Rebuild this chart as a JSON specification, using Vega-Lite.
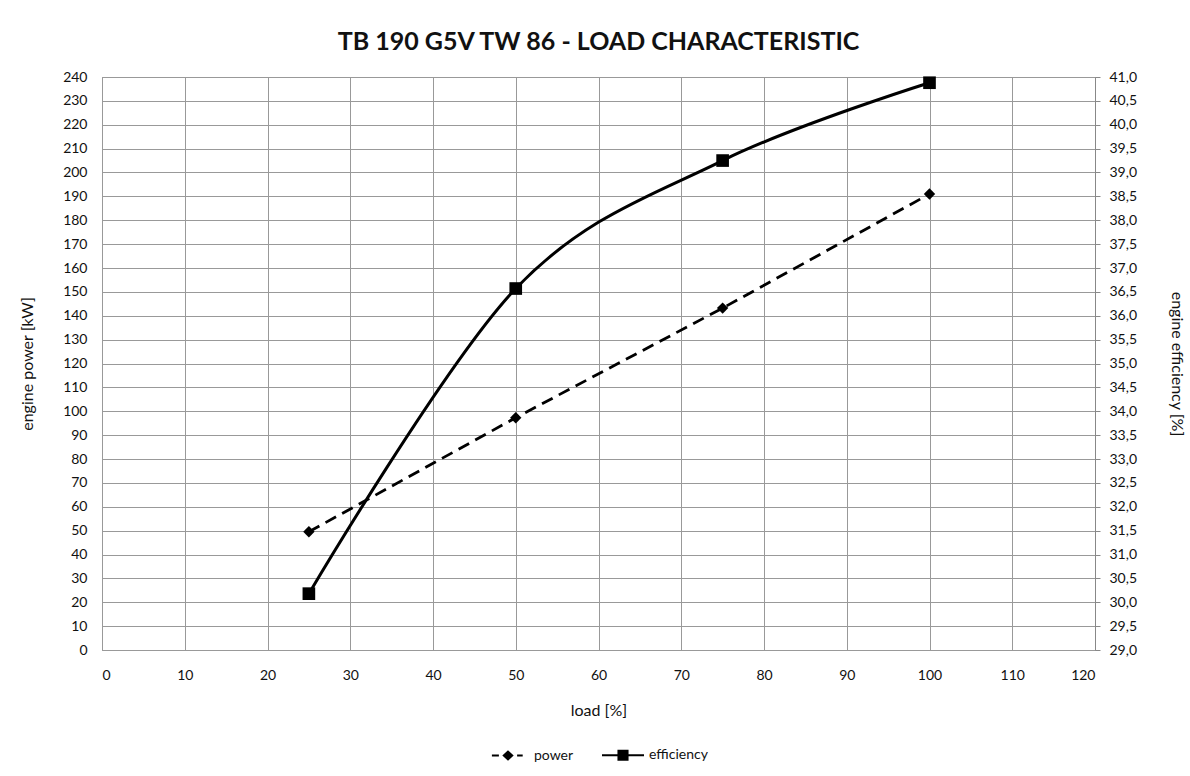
{
  "$schema": "https://vega.github.io/schema/vega-lite/v6.json",
  "autosize": "none",
  "width": 993,
  "height": 573,
  "padding": {"left": 102, "top": 77, "right": 95, "bottom": 126},
  "background": "white",
  "title": {
    "text": "TB 190 G5V TW 86 - LOAD CHARACTERISTIC",
    "font": "Lato",
    "fontSize": 25,
    "fontWeight": "bold",
    "color": "#111111",
    "offset": 15
  },
  "config": {
    "view": {"stroke": "#888888", "strokeWidth": 1}
  },
  "data": {
    "values": [
      {"load": 25, "power": 49.5, "efficiency": 30.18},
      {"load": 50, "power": 97.3, "efficiency": 36.57},
      {"load": 75, "power": 143.2, "efficiency": 39.25},
      {"load": 100, "power": 191.0, "efficiency": 40.88}
    ]
  },
  "encoding": {
    "x": {
      "field": "load",
      "type": "quantitative",
      "scale": {"domain": [0, 120], "nice": false},
      "axis": {
        "title": "load [%]",
        "values": [0, 10, 20, 30, 40, 50, 60, 70, 80, 90, 100, 110, 120],
        "labelFont": "Lato",
        "labelFontSize": 14,
        "labelColor": "#111111",
        "titleFont": "Lato",
        "titleFontSize": 16,
        "titleFontWeight": "normal",
        "titleColor": "#111111",
        "gridColor": "#999999",
        "labelOverlap": false,
        "tickSize": 0,
        "labelPadding": 18,
        "titlePadding": 20,
        "domain": false
      }
    }
  },
  "layer": [
    {
      "encoding": {
        "y": {
          "field": "power",
          "type": "quantitative",
          "scale": {"domain": [0, 240], "nice": false},
          "axis": {
            "title": "engine power [kW]",
            "values": [0, 10, 20, 30, 40, 50, 60, 70, 80, 90, 100, 110, 120, 130, 140, 150, 160, 170, 180, 190, 200, 210, 220, 230, 240],
            "labelFont": "Lato",
            "labelFontSize": 14,
            "labelColor": "#111111",
            "titleFont": "Lato",
            "titleFontSize": 16,
            "titleFontWeight": "normal",
            "titleColor": "#111111",
            "gridColor": "#999999",
            "labelOverlap": false,
            "tickSize": 0,
            "labelPadding": 15,
            "titlePadding": 27,
            "domain": false
          }
        }
      },
      "layer": [
        {
          "mark": {"type": "line", "color": "black", "strokeWidth": 2.8, "strokeDash": [12, 7]}
        },
        {
          "mark": {"type": "point", "shape": "diamond", "filled": true, "color": "black", "opacity": 1, "size": 130}
        }
      ]
    },
    {
      "encoding": {
        "y": {
          "field": "efficiency",
          "type": "quantitative",
          "scale": {"domain": [29, 41], "nice": false},
          "axis": {
            "title": "engine efficiency [%]",
            "orient": "right",
            "values": [29, 29.5, 30, 30.5, 31, 31.5, 32, 32.5, 33, 33.5, 34, 34.5, 35, 35.5, 36, 36.5, 37, 37.5, 38, 38.5, 39, 39.5, 40, 40.5, 41],
            "labelExpr": "replace(format(datum.value, '.1f'), '.', ',')",
            "labelFont": "Lato",
            "labelFontSize": 14,
            "labelColor": "#111111",
            "titleFont": "Lato",
            "titleFontSize": 16,
            "titleFontWeight": "normal",
            "titleColor": "#111111",
            "labelOverlap": false,
            "grid": false,
            "tickSize": 5,
            "tickColor": "#888888",
            "domainColor": "#888888",
            "labelPadding": 9,
            "titlePadding": 32,
            "domain": true
          }
        }
      },
      "layer": [
        {
          "mark": {"type": "line", "color": "black", "strokeWidth": 3, "interpolate": "cardinal"}
        },
        {
          "mark": {"type": "point", "shape": "square", "filled": true, "color": "black", "opacity": 1, "size": 160}
        },
        {
          "data": {
            "values": [
              {"series": "power", "load": 50, "efficiency": 36.57},
              {"series": "efficiency", "load": 50, "efficiency": 36.57}
            ]
          },
          "mark": {"type": "point", "filled": true, "color": "black", "stroke": "black", "strokeWidth": 2, "opacity": 0},
          "encoding": {
            "shape": {
              "field": "series",
              "type": "nominal",
              "scale": {
                "domain": ["power", "efficiency"],
                "range": [
                  "M-2.3,0H-1.3M-0.6,0L0,-0.55L0.6,0L0,0.55ZM1.3,0H2.1",
                  "M-3,0H3M-0.65,-0.65H0.65V0.65H-0.65Z"
                ]
              },
              "legend": {
                "title": null,
                "orient": "none",
                "legendX": 398,
                "legendY": 670,
                "direction": "horizontal",
                "symbolSize": 196,
                "symbolStrokeWidth": 2,
                "symbolFillColor": "black",
                "labelFont": "Lato",
                "labelFontSize": 14,
                "labelColor": "#111111",
                "labelOffset": 18,
                "columnPadding": 24,
                "encode": {
                  "symbols": {
                    "update": {
                      "opacity": {"value": 1},
                      "fill": {"value": "black"},
                      "fillOpacity": {"value": 1},
                      "stroke": {"value": "black"},
                      "strokeWidth": {"value": 2}
                    }
                  }
                }
              }
            }
          }
        }
      ]
    }
  ],
  "resolve": {"scale": {"y": "independent"}}
}
